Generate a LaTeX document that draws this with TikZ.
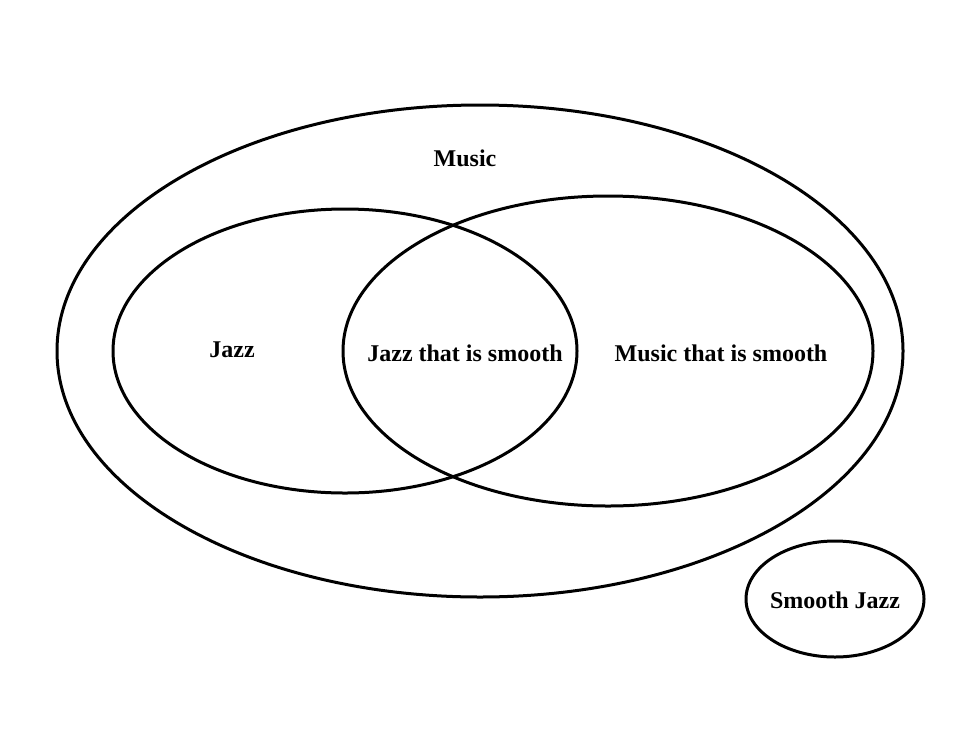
\documentclass[tikz,border=0pt]{standalone}
\usepackage{fontspec}
\setmainfont{Liberation Serif}
\begin{document}
\begin{tikzpicture}[x=1pt,y=-1pt,
  ring/.style={draw=black,line width=3pt},
  lab/.style={font=\fontsize{24}{28}\selectfont\bfseries,inner sep=0pt}]
\useasboundingbox (0,0) rectangle (960,742);
\fill[white] (0,0) rectangle (960,742);
\draw[ring] (480,351) ellipse [x radius=423,y radius=246];
\draw[ring] (345,351) ellipse [x radius=232,y radius=142];
\draw[ring] (608,351) ellipse [x radius=265,y radius=155];
\draw[ring] (835,599) ellipse [x radius=89,y radius=58];
\node[lab] (music) at (465,158) {Music};
\node[lab] (jazz) at (232,350) {Jazz};
\node[lab] (jts) at (465,353) {Jazz that is smooth};
\node[lab] (mts) at (721,353) {Music that is smooth};
\node[lab] (sj) at (835,600) {Smooth Jazz};
\end{tikzpicture}
\end{document}
